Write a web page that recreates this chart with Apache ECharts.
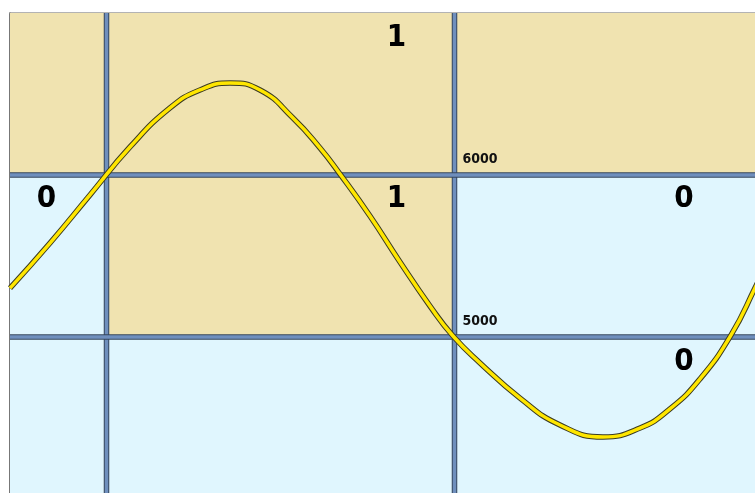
<!DOCTYPE html>
<html>
<head>
<meta charset="utf-8">
<script src="https://cdn.jsdelivr.net/npm/echarts@6/dist/echarts.min.js"></script>
<style>
html, body { margin: 0; padding: 0; background: #fff; }
#main { width: 755px; height: 493px; }
</style>
</head>
<body>
<div id="main"></div>
<script>
var chart = echarts.init(document.getElementById('main'));

// cell boundaries (x units, y values)
var xBreaks = [0, 96.5, 444.5, 745];
var yBreaks = [7000, 6000, 5000, 4037];
// 1 = tan, 0 = blue; one row per band, top to bottom
var cellStates = [
    [1, 1, 1],
    [0, 1, 0],
    [0, 0, 0]
];

// boundary value labels, drawn beside the second vertical divider
var boundaryValues = [6000, 5000];

// cell labels
var labelX = [386.5, 36.5, 386.5, 674, 674];
var labelY = [6843, 5850, 5850, 5850, 4843];
var labelText = ['1', '0', '1', '0', '0'];

// the wave
var waveX = [0, 40, 80, 120, 160, 190, 220, 250, 283, 310, 330, 360, 390, 420, 443, 470, 510, 550, 593, 630, 660, 690, 721, 745, 760];
var waveY = [5302, 5580, 5877, 6173, 6414, 6525, 6568, 6525, 6352, 6167, 6006, 5747, 5463, 5191, 5006, 4840, 4623, 4457, 4383, 4438, 4556, 4741, 5012, 5302, 5500];

var tan = '#f0e3b0';
var blue = '#e0f6fe';

var cells = [];
for (var r = 0; r < cellStates.length; r++) {
    for (var c = 0; c < cellStates[r].length; c++) {
        cells.push([xBreaks[c], xBreaks[c + 1], yBreaks[r], yBreaks[r + 1], cellStates[r][c]]);
    }
}

var dividers = [];
for (var i = 1; i < xBreaks.length - 1; i++) dividers.push([0, xBreaks[i]]);
for (var j = 1; j < yBreaks.length - 1; j++) dividers.push([1, yBreaks[j]]);

var wave = [];
for (var k = 0; k < waveX.length; k++) wave.push([waveX[k], waveY[k]]);

var labels = [];
for (var m = 0; m < labelX.length; m++) labels.push([labelX[m], labelY[m]]);

var boundaryMarks = [];
for (var n = 0; n < boundaryValues.length; n++) boundaryMarks.push([xBreaks[2], boundaryValues[n]]);

var xMin = xBreaks[0], xMax = xBreaks[xBreaks.length - 1];
var yMax = yBreaks[0], yMin = yBreaks[yBreaks.length - 1];

option = {
    animation: false,
    grid: { left: 10, top: 13, right: 0, bottom: 0 },
    xAxis: {
        type: 'value', min: xMin, max: xMax, position: 'top',
        axisLine: { show: true, lineStyle: { color: '#9a9a9a', width: 1.5 } },
        axisTick: { show: false }, axisLabel: { show: false }, splitLine: { show: false }
    },
    yAxis: {
        type: 'value', min: yMin, max: yMax,
        axisLine: { show: true, lineStyle: { color: '#4a4a4a', width: 1.5 } },
        axisTick: { show: false }, axisLabel: { show: false }, splitLine: { show: false }
    },
    series: [{
        type: 'custom',
        data: cells,
        encode: { x: [0, 1], y: [2, 3] },
        renderItem: function (params, api) {
            var p0 = api.coord([api.value(0), api.value(2)]);
            var p1 = api.coord([api.value(1), api.value(3)]);
            return {
                type: 'rect',
                shape: { x: p0[0], y: p0[1], width: p1[0] - p0[0], height: p1[1] - p0[1] },
                style: { fill: api.value(4) ? tan : blue }
            };
        },
        z: 1
    }, {
        type: 'custom',
        data: dividers,
        encode: { x: 1, y: 1 },
        renderItem: function (params, api) {
            var v = api.value(1), a, b;
            if (api.value(0) === 0) {
                a = api.coord([v, yMax]); b = api.coord([v, yMin]);
            } else {
                a = api.coord([xMin, v]); b = api.coord([xMax, v]);
            }
            var shape = { x1: a[0], y1: a[1], x2: b[0], y2: b[1] };
            return {
                type: 'group',
                children: [
                    { type: 'line', shape: shape, style: { stroke: '#34465c', lineWidth: 5.5 } },
                    { type: 'line', shape: shape, style: { stroke: '#6f8fbd', lineWidth: 3.5 } }
                ]
            };
        },
        z: 2
    }, {
        type: 'custom',
        data: boundaryMarks,
        encode: { x: 0, y: 1 },
        renderItem: function (params, api) {
            var p = api.coord([api.value(0), api.value(1)]);
            return {
                type: 'text',
                style: {
                    text: String(api.value(1)), x: p[0] + 8, y: p[1] - 9,
                    align: 'left', verticalAlign: 'bottom',
                    fontFamily: 'DejaVu Sans Condensed', fontWeight: 'bold', fontSize: 14, fill: '#111'
                }
            };
        },
        z: 3
    }, {
        type: 'custom',
        data: labels,
        encode: { x: 0, y: 1 },
        renderItem: function (params, api) {
            var p = api.coord([api.value(0), api.value(1)]);
            return {
                type: 'text',
                style: {
                    text: labelText[params.dataIndex], x: p[0], y: p[1],
                    align: 'center', verticalAlign: 'middle',
                    fontFamily: 'DejaVu Sans Condensed', fontWeight: 'bold', fontSize: 31, fill: '#000'
                }
            };
        },
        z: 3
    }, {
        type: 'line', data: wave, smooth: true, showSymbol: false, symbol: 'none',
        lineStyle: { color: '#3b3b22', width: 5.5 }, z: 4
    }, {
        type: 'line', data: wave, smooth: true, showSymbol: false, symbol: 'none',
        lineStyle: { color: '#ffe600', width: 3.5 }, z: 5
    }]
};

chart.setOption(option);
</script>
</body>
</html>
